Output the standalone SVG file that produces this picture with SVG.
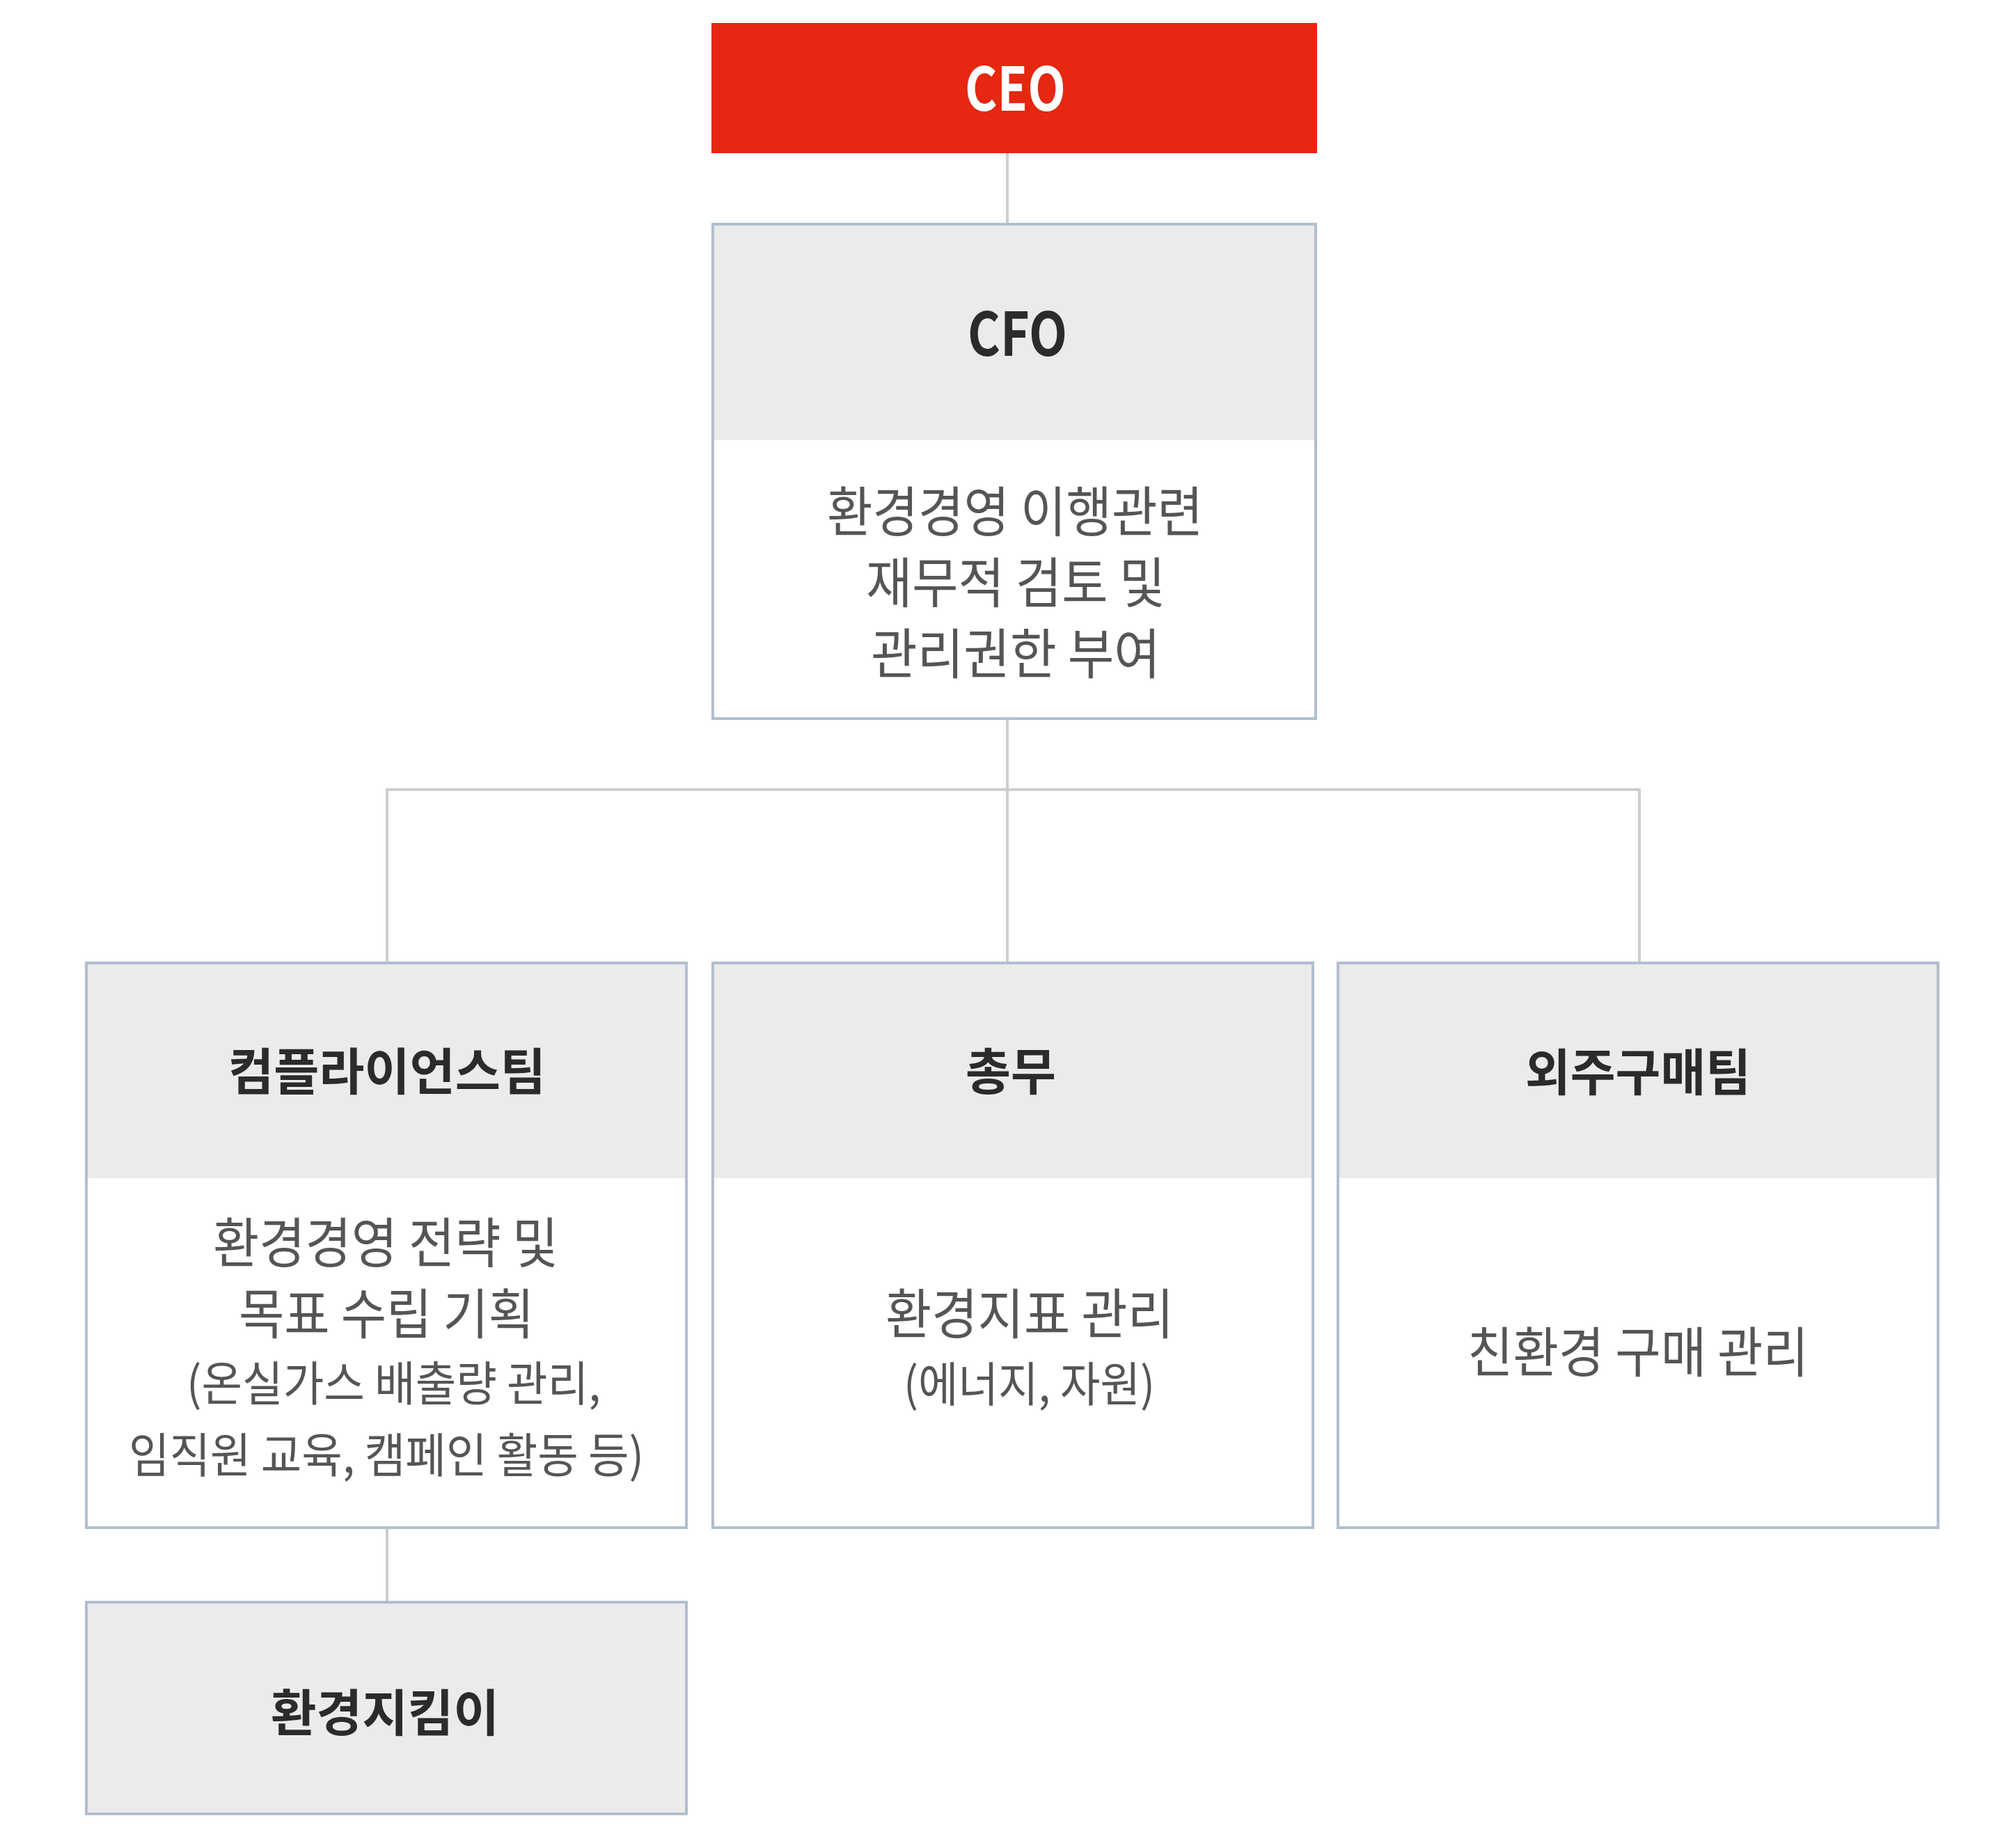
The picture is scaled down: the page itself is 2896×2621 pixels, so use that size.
<svg xmlns="http://www.w3.org/2000/svg" width="2896" height="2621" viewBox="0 0 2896 2621">
<style>
  .bg { fill: #ffffff; }
  .box { fill: #ffffff; stroke: #b1bfce; stroke-width: 4; }
  .head { fill: #ebebeb; }
  .ceo { fill: #e62711; }
  .conn { stroke: #cdcdcd; stroke-width: 4; fill: none; stroke-linecap: square; }
  text { font-family: "Noto Sans CJK KR", "Noto Sans", sans-serif; }
  .t-ceo { font-size: 86px; font-weight: 700; fill: #ffffff; }
  .t-head { font-size: 72px; font-weight: 700; fill: #2b2b2b; }
  .t-title { font-size: 86px; font-weight: 700; fill: #2b2b2b; }
  .t-body { font-size: 78px; font-weight: 400; fill: #555555; }
  .t-small { font-size: 68px; font-weight: 400; fill: #555555; }
</style>
<rect class="bg" x="0" y="0" width="2896" height="2621"/>

<g id="connectors">
  <line class="conn" x1="1447" y1="220" x2="1447" y2="320"/>
  <line class="conn" x1="1447" y1="1034" x2="1447" y2="1381"/>
  <polyline class="conn" points="556,1381 556,1134 2355,1134 2355,1381"/>
  <line class="conn" x1="556" y1="2196" x2="556" y2="2299"/>
</g>

<g id="ceo">
  <rect class="ceo" x="1022" y="33" width="870" height="187"/>
  <text class="t-ceo" x="1386" y="159" textLength="145" lengthAdjust="spacingAndGlyphs">CEO</text>
</g>

<g id="cfo">
  <rect class="box" x="1024" y="322" width="866" height="710"/>
  <rect class="head" x="1026" y="324" width="862" height="308"/>
  <text class="t-title" x="1390" y="511" textLength="143" lengthAdjust="spacingAndGlyphs">CFO</text>
  <text class="t-body" x="1188" y="764" textLength="540" lengthAdjust="spacingAndGlyphs">환경경영 이행관련</text>
  <text class="t-body" x="1244" y="866" textLength="430" lengthAdjust="spacingAndGlyphs">재무적 검토 및</text>
  <text class="t-body" x="1251" y="968" textLength="416" lengthAdjust="spacingAndGlyphs">관리권한 부여</text>
</g>

<g id="compliance">
  <rect class="box" x="124" y="1383" width="862" height="811"/>
  <rect class="head" x="126" y="1385" width="858" height="307"/>
  <text class="t-head" x="328" y="1565" textLength="456" lengthAdjust="spacingAndGlyphs">컴플라이언스팀</text>
  <text class="t-body" x="306" y="1814" textLength="496" lengthAdjust="spacingAndGlyphs">환경경영 전략 및</text>
  <text class="t-body" x="343" y="1916" textLength="424" lengthAdjust="spacingAndGlyphs">목표 수립 기획</text>
  <text class="t-small" x="268" y="2012" textLength="595" lengthAdjust="spacingAndGlyphs">(온실가스 배출량 관리,</text>
  <text class="t-small" x="185" y="2115" textLength="740" lengthAdjust="spacingAndGlyphs">임직원 교육, 캠페인 활동 등)</text>
</g>

<g id="general-affairs">
  <rect class="box" x="1024" y="1383" width="862" height="811"/>
  <rect class="head" x="1026" y="1385" width="858" height="307"/>
  <text class="t-head" x="1387" y="1565" textLength="130" lengthAdjust="spacingAndGlyphs">총무</text>
  <text class="t-body" x="1272" y="1916" textLength="414" lengthAdjust="spacingAndGlyphs">환경지표 관리</text>
  <text class="t-small" x="1298" y="2013" textLength="361" lengthAdjust="spacingAndGlyphs">(에너지, 자원)</text>
</g>

<g id="purchasing">
  <rect class="box" x="1922" y="1383" width="862" height="811"/>
  <rect class="head" x="1924" y="1385" width="858" height="307"/>
  <text class="t-head" x="2191" y="1566" textLength="324" lengthAdjust="spacingAndGlyphs">외주구매팀</text>
  <text class="t-body" x="2108" y="1971" textLength="490" lengthAdjust="spacingAndGlyphs">친환경 구매 관리</text>
</g>

<g id="eco-keepers">
  <rect class="box" x="124" y="2301" width="862" height="304" style="fill:#ebebeb"/>
  <text class="t-head" x="389" y="2486" textLength="328" lengthAdjust="spacingAndGlyphs">환경지킴이</text>
</g>
</svg>
